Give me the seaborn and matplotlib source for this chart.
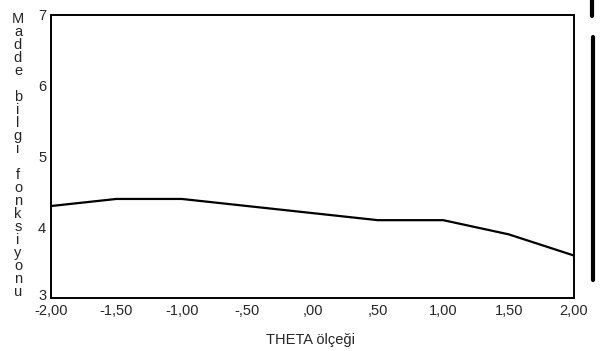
import matplotlib
matplotlib.use("Agg")
import matplotlib.pyplot as plt
import matplotlib.transforms as mtransforms
import seaborn as sns
import pandas as pd
from matplotlib.lines import Line2D

# data
theta = [-2.0, -1.5, -1.0, -0.5, 0.0, 0.5, 1.0, 1.5, 2.0]
info = [4.3, 4.4, 4.4, 4.3, 4.2, 4.1, 4.1, 3.9, 3.6]
x_ticks = [-2.0, -1.5, -1.0, -0.5, 0.0, 0.5, 1.0, 1.5, 2.0]
x_labels = ["-2,00", "-1,50", "-1,00", "-,50", ",00", ",50", "1,00", "1,50", "2,00"]
y_ticks = [3, 4, 5, 6, 7]
y_title = "Madde bilgi fonksiyonu"
x_title = "THETA ölçeği"

df = pd.DataFrame({"theta": theta, "info": info})

sns.set_style("white")
plt.rcParams["font.family"] = ["Liberation Sans", "DejaVu Sans"]

fig = plt.figure(figsize=(6.06, 3.51), dpi=100)
ax = fig.add_axes([51 / 606, 53 / 351, 523 / 606, 283 / 351])

sns.lineplot(data=df, x="theta", y="info", color="black", linewidth=1.6, ax=ax)

ax.set_xlim(-2, 2)
ax.set_ylim(3, 7)
ax.set_xticks(x_ticks)
ax.set_xticklabels(x_labels, fontsize=10.5)
ax.set_yticks(y_ticks)
ax.set_yticklabels([str(v) for v in y_ticks], fontsize=10.5)
ax.tick_params(direction="out", length=3, width=1, color="black", pad=1.5)
ax.tick_params(axis="y", pad=0.5)
for s in ax.spines.values():
    s.set_color("black")
    s.set_linewidth(1.4)
ax.set_xlabel("")
ax.set_ylabel("")

# lift the bottom y label a little so it clears "-2,00"
lbl = ax.get_yticklabels()[0]
lbl.set_transform(lbl.get_transform() + mtransforms.ScaledTranslation(0, 4 / 100, fig.dpi_scale_trans))

# stacked vertical y title, one letter per row
n = len(y_title)
for i, ch in enumerate(y_title):
    y = 19 + i * (273 / (n - 1))
    fig.text(18 / 606, 1 - y / 351, ch, fontsize=10.5, ha="center", va="center")

fig.text(310 / 606, 1 - 340 / 351, x_title, fontsize=10.5, ha="center", va="center")

# scanning bar at the right edge
fig.add_artist(Line2D([592 / 606, 592 / 606], [1, 1 - 16 / 351], color="black", linewidth=3))
fig.add_artist(Line2D([593 / 606, 593 / 606], [1 - 37 / 351, 1 - 280 / 351], color="black", linewidth=3))

fig.savefig("out.png", dpi=100)
